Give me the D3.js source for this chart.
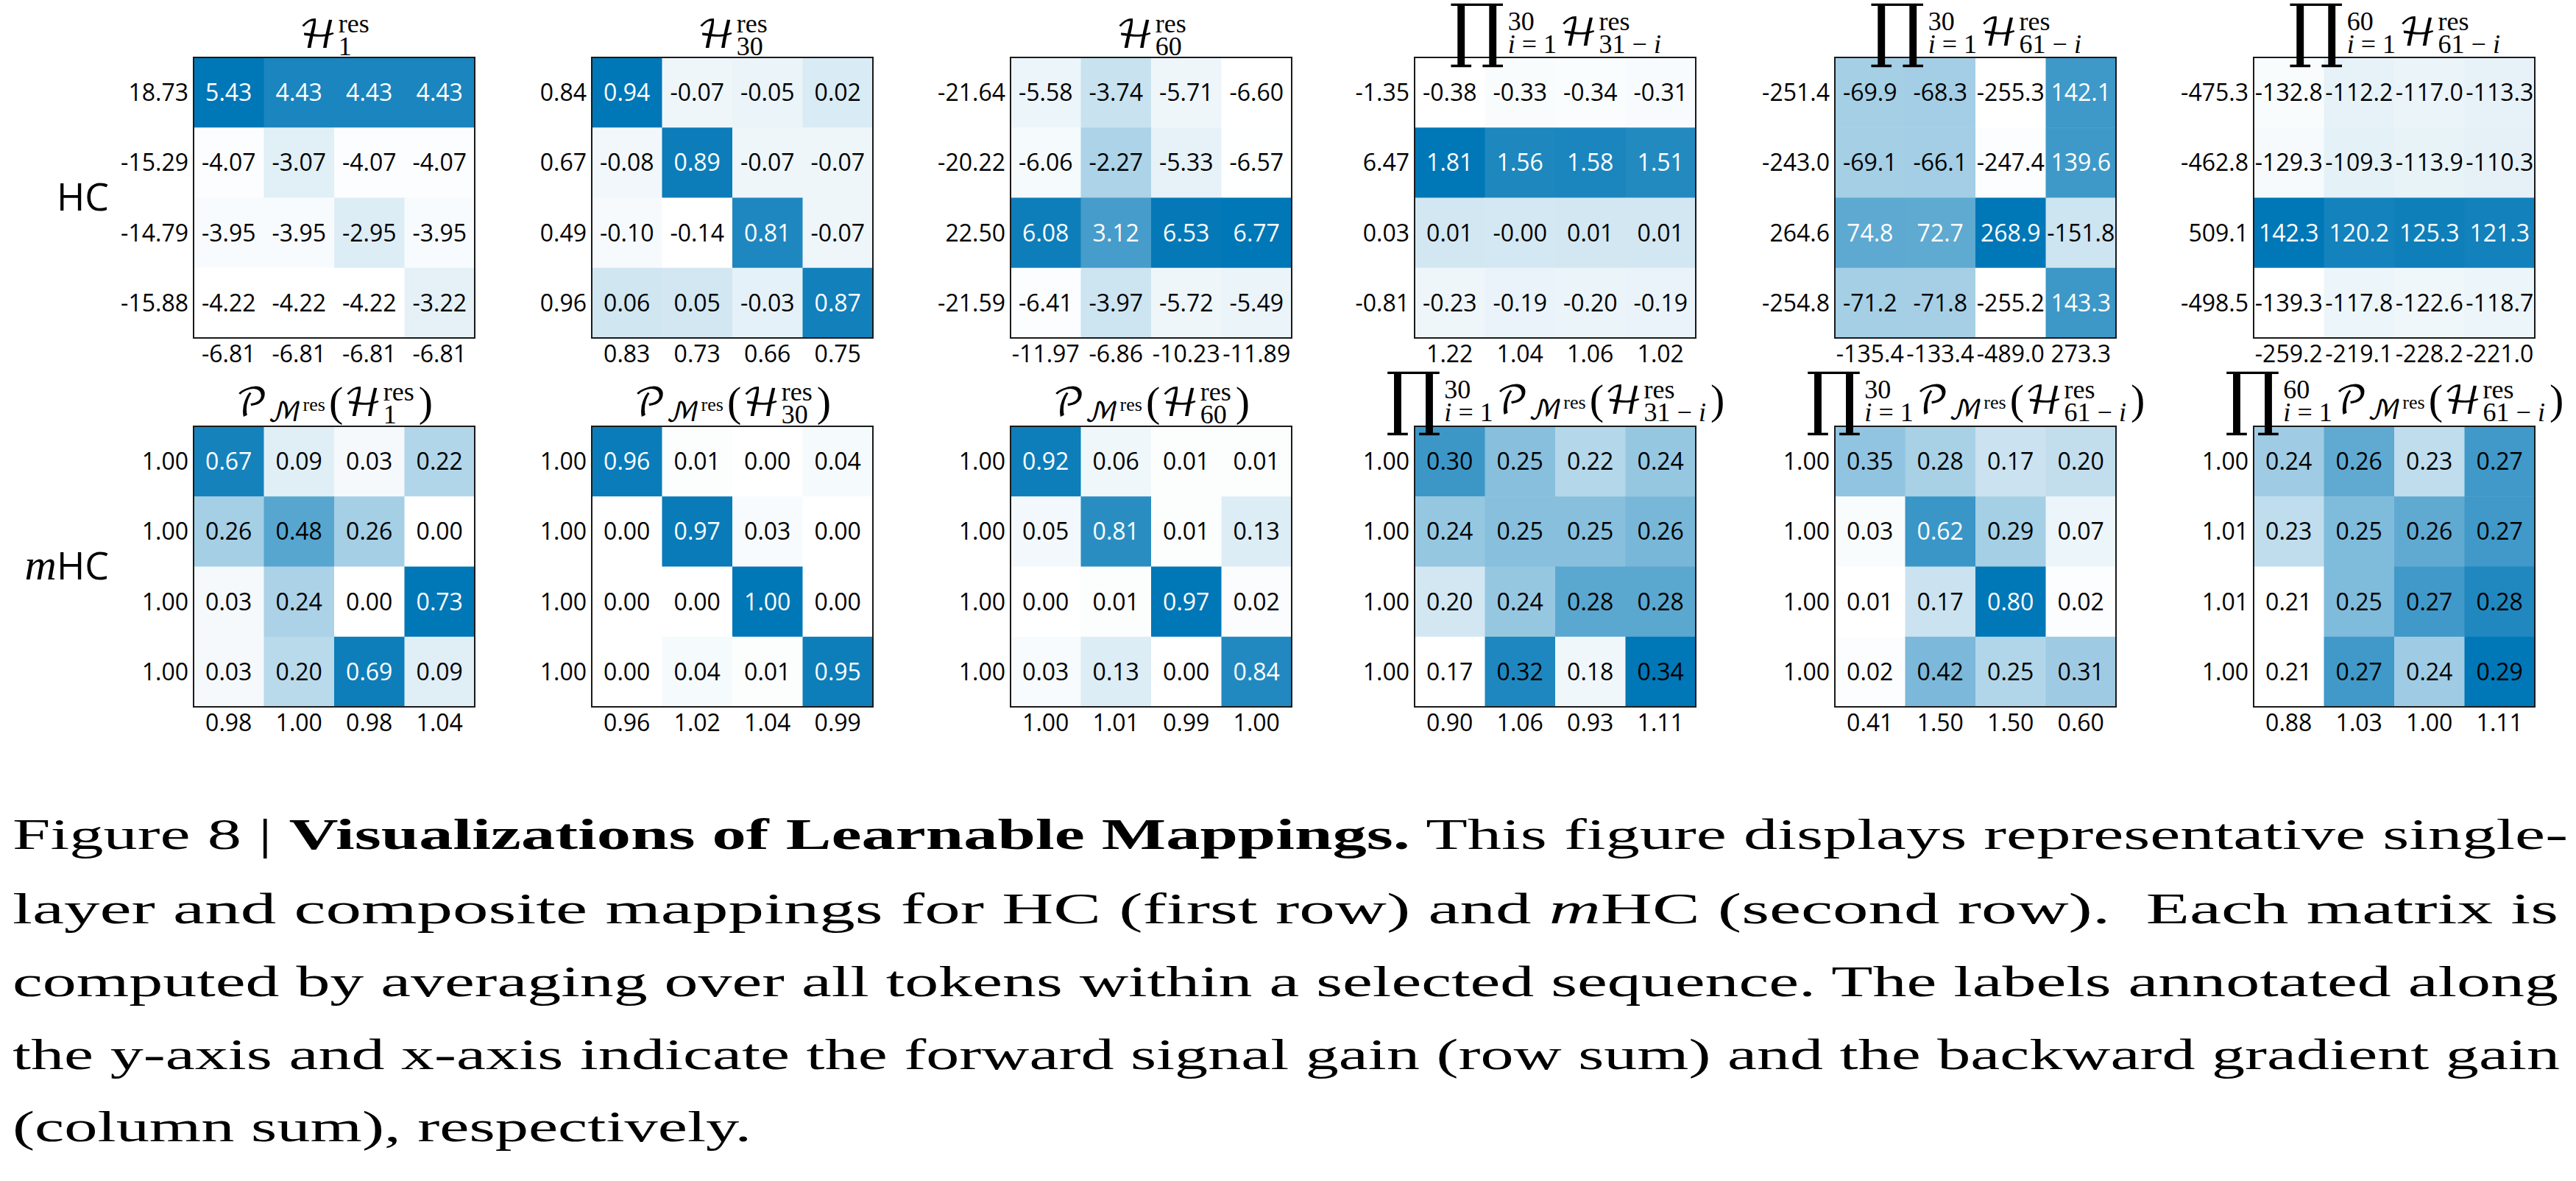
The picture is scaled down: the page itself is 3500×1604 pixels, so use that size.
<!DOCTYPE html>
<html><head><meta charset="utf-8">
<script src="https://cdn.jsdelivr.net/npm/d3@7/dist/d3.min.js"></script>
<style>body{margin:0;background:#fff}svg{display:block}</style>
</head><body>
<svg id="chart" width="3500" height="1604"></svg>
<script>
// ---------------- DATA ----------------
const rowLabels = ["HC", "mHC"];
const titleSubs = ["1", "30", "60", "31 − i", "61 − i", "61 − i"];
const titleProds = ["", "", "", "30", "30", "60"];

const hcMatrices = [
  [[5.43,4.43,4.43,4.43],[-4.07,-3.07,-4.07,-4.07],[-3.95,-3.95,-2.95,-3.95],[-4.22,-4.22,-4.22,-3.22]],
  [[0.94,-0.07,-0.05,0.02],[-0.08,0.89,-0.07,-0.07],[-0.10,-0.14,0.81,-0.07],[0.06,0.05,-0.03,0.87]],
  [[-5.58,-3.74,-5.71,-6.60],[-6.06,-2.27,-5.33,-6.57],[6.08,3.12,6.53,6.77],[-6.41,-3.97,-5.72,-5.49]],
  [[-0.38,-0.33,-0.34,-0.31],[1.81,1.56,1.58,1.51],[0.01,-0.004,0.01,0.01],[-0.23,-0.19,-0.20,-0.19]],
  [[-69.9,-68.3,-255.3,142.1],[-69.1,-66.1,-247.4,139.6],[74.8,72.7,268.9,-151.8],[-71.2,-71.8,-255.2,143.3]],
  [[-132.8,-112.2,-117.0,-113.3],[-129.3,-109.3,-113.9,-110.3],[142.3,120.2,125.3,121.3],[-139.3,-117.8,-122.6,-118.7]]
];
const hcRowSums = [
  [18.73,-15.29,-14.79,-15.88],
  [0.84,0.67,0.49,0.96],
  [-21.64,-20.22,22.50,-21.59],
  [-1.35,6.47,0.03,-0.81],
  [-251.4,-243.0,264.6,-254.8],
  [-475.3,-462.8,509.1,-498.5]
];
const hcColSums = [
  [-6.81,-6.81,-6.81,-6.81],
  [0.83,0.73,0.66,0.75],
  [-11.97,-6.86,-10.23,-11.89],
  [1.22,1.04,1.06,1.02],
  [-135.4,-133.4,-489.0,273.3],
  [-259.2,-219.1,-228.2,-221.0]
];
const hcDecimals = [2,2,2,2,1,1];

const mhcMatrices = [
  [[0.67,0.09,0.03,0.22],[0.26,0.48,0.26,0.00],[0.03,0.24,0.00,0.73],[0.03,0.20,0.69,0.09]],
  [[0.96,0.01,0.00,0.04],[0.00,0.97,0.03,0.00],[0.00,0.00,1.00,0.00],[0.00,0.04,0.01,0.95]],
  [[0.92,0.06,0.01,0.01],[0.05,0.81,0.01,0.13],[0.00,0.01,0.97,0.02],[0.03,0.13,0.00,0.84]],
  [[0.30,0.25,0.22,0.24],[0.24,0.25,0.25,0.26],[0.20,0.24,0.28,0.28],[0.17,0.32,0.18,0.34]],
  [[0.35,0.28,0.17,0.20],[0.03,0.62,0.29,0.07],[0.01,0.17,0.80,0.02],[0.02,0.42,0.25,0.31]],
  [[0.24,0.26,0.23,0.27],[0.23,0.25,0.26,0.27],[0.21,0.25,0.27,0.28],[0.21,0.27,0.24,0.29]]
];
const mhcRowSums = [
  [1.00,1.00,1.00,1.00],
  [1.00,1.00,1.00,1.00],
  [1.00,1.00,1.00,1.00],
  [1.00,1.00,1.00,1.00],
  [1.00,1.00,1.00,1.00],
  [1.00,1.01,1.01,1.00]
];
const mhcColSums = [
  [0.98,1.00,0.98,1.04],
  [0.96,1.02,1.04,0.99],
  [1.00,1.01,0.99,1.00],
  [0.90,1.06,0.93,1.11],
  [0.41,1.50,1.50,0.60],
  [0.88,1.03,1.00,1.11]
];
const mhcDecimals = [2,2,2,2,2,2];

const captionLines = [
  [["Figure 8 | ","n"],["Visualizations of Learnable Mappings.","b"],[" This figure displays representative single-","n"]],
  [["layer and composite mappings for HC (first row) and ","n"],["m","i"],["HC (second row).  Each matrix is","n"]],
  [["computed by averaging over all tokens within a selected sequence. The labels annotated along","n"]],
  [["the y-axis and x-axis indicate the forward signal gain (row sum) and the backward gradient gain","n"]],
  [["(column sum), respectively.","n"]]
];

// ---------------- LAYOUT / STYLE ----------------
const svg = d3.select("#chart");
const sans = "'Open Sans','Noto Sans',sans-serif";
const serif = "'Liberation Serif','DejaVu Serif',serif";
const calFont = "'DejaVu Math TeX Gyre','DejaVu Serif','DejaVu Sans',serif";
const prodFont = "'DejaVu Serif','Liberation Serif',serif";
const panelLefts = [263, 804, 1373, 1922, 2493, 3062];
const rowTops = [78, 579];
const titleBase = [[65,65,65,62,62,62],[565,565,565,562,562,562]];
const PW = 382, PH = 381;
const maxColor = "#0077b6";

function buildTitle(g, rowIdx, k, base) {
  const t = g.append("text").style("white-space", "pre").attr("fill", "#000");
  const piece = (str, px, py, fs, ff, it) => {
    const s = t.append("tspan").attr("x", px).attr("y", py)
      .style("font-family", ff).style("font-size", fs + "px")
      .style("font-style", it ? "italic" : "normal").text(str);
    return s.node().getComputedTextLength();
  };
  const script = (str, px, py, fs) => {
    let w = 0;
    str.split(/(i)/).filter(s => s.length).forEach(s => { w += piece(s, px + w, py, fs, serif, s === "i"); });
    return w;
  };
  let x = 0;
  const prod = titleProds[k];
  if (prod) {
    x += piece("∏", x, base + 11, 95, prodFont, false) + 4;
    const wa = script(prod, x, base - 21, 36);
    const wb = script("i = 1", x, base + 10, 36);
    x += Math.max(wa, wb) + 4;
  }
  if (rowIdx === 1) {
    x += piece("𝒫", x, base, 52, calFont, false);
    x += piece("ℳ", x, base + 7, 36, calFont, false);
    x += script("res", x + 2, base - 7, 26) + 7;
    x += piece("(", x, base, 58, serif, false) + 1;
  }
  x += piece("ℋ", x, base, 52, calFont, false) + 2;
  const ws = script("res", x, base - 21, 36);
  const wb2 = script(titleSubs[k], x, base + 10, 36);
  x += Math.max(ws, wb2);
  if (rowIdx === 1) {
    x += 6;
    x += piece(")", x, base, 58, serif, false);
  }
  return x;
}

const rows = [
  {mats: hcMatrices, rs: hcRowSums, cs: hcColSums, dec: hcDecimals},
  {mats: mhcMatrices, rs: mhcRowSums, cs: mhcColSums, dec: mhcDecimals}
];

rows.forEach((row, ri) => {
  row.mats.forEach((mat, k) => {
    const g = svg.append("g").attr("transform", `translate(${panelLefts[k]},${rowTops[ri]})`);
    const idx = d3.range(4);
    const x = d3.scaleBand().domain(idx).range([0, PW]);
    const y = d3.scaleBand().domain(idx).range([0, PH]);
    const flat = mat.flat();
    const color = d3.scaleLinear().domain(d3.extent(flat)).range(["#ffffff", maxColor]).interpolate(d3.interpolateRgb);
    const cells = [];
    mat.forEach((r, i) => r.forEach((v, j) => cells.push({i, j, v})));
    g.selectAll("rect.cell").data(cells).join("rect").attr("class", "cell")
      .attr("x", d => x(d.j)).attr("y", d => y(d.i))
      .attr("width", x.bandwidth() + 0.5).attr("height", y.bandwidth() + 0.5)
      .attr("fill", d => color(d.v));
    g.selectAll("text.val").data(cells).join("text").attr("class", "val")
      .attr("x", d => x(d.j) + x.bandwidth() / 2).attr("y", d => y(d.i) + y.bandwidth() / 2)
      .attr("dy", "0.36em").attr("text-anchor", "middle")
      .style("font-family", sans).style("font-size", "32px")
      .attr("fill", d => d.v > 0.5 ? "#ffffff" : "#000000")
      .text(d => d.v.toFixed(row.dec[k]));
    g.append("rect").attr("x", 0).attr("y", 0).attr("width", PW).attr("height", PH)
      .attr("fill", "none").attr("stroke", "#1a1a1a").attr("stroke-width", 2);
    const ya = g.append("g").call(d3.axisLeft(y).tickSize(0).tickPadding(7).tickFormat(i => row.rs[k][i].toFixed(row.dec[k])));
    ya.select(".domain").remove();
    ya.selectAll("text").attr("dy", "0.36em").style("font-family", sans).style("font-size", "32px").attr("fill", "#000");
    const xa = g.append("g").attr("transform", `translate(0,${PH})`)
      .call(d3.axisBottom(x).tickSize(0).tickPadding(10).tickFormat(j => row.cs[k][j].toFixed(row.dec[k])));
    xa.select(".domain").remove();
    xa.selectAll("text").style("font-family", sans).style("font-size", "32px").attr("fill", "#000");
    const tg = svg.append("g");
    const tw = buildTitle(tg, ri, k, titleBase[ri][k]);
    tg.attr("transform", `translate(${panelLefts[k] + PW / 2 - tw / 2},0)`);
  });
});

// row labels
svg.append("text").attr("x", 148).attr("y", 286).attr("text-anchor", "end")
  .style("font-family", sans).style("font-size", "52px").text(rowLabels[0]);
const mT = svg.append("text").attr("x", 148).attr("y", 787).attr("text-anchor", "end");
mT.append("tspan").style("font-family", serif).style("font-style", "italic").style("font-size", "60px").text(rowLabels[1].slice(0, 1));
mT.append("tspan").style("font-family", sans).style("font-size", "52px").text(rowLabels[1].slice(1));

// caption
const capBase = [1153, 1254, 1353, 1452, 1550];
const capWidth = [3472, 3459, 3459, 3461, 1004];
captionLines.forEach((line, li) => {
  const t = svg.append("text").attr("x", 17).attr("y", capBase[li])
    .style("font-family", "'Liberation Serif','DejaVu Serif',serif").style("font-size", "60px")
    .style("white-space", "pre")
    .attr("textLength", capWidth[li]).attr("lengthAdjust", "spacingAndGlyphs");
  line.forEach(([s, st]) => {
    t.append("tspan").style("font-weight", st === "b" ? "bold" : "normal")
      .style("font-style", st === "i" ? "italic" : "normal").text(s);
  });
});
</script>
</body></html>
